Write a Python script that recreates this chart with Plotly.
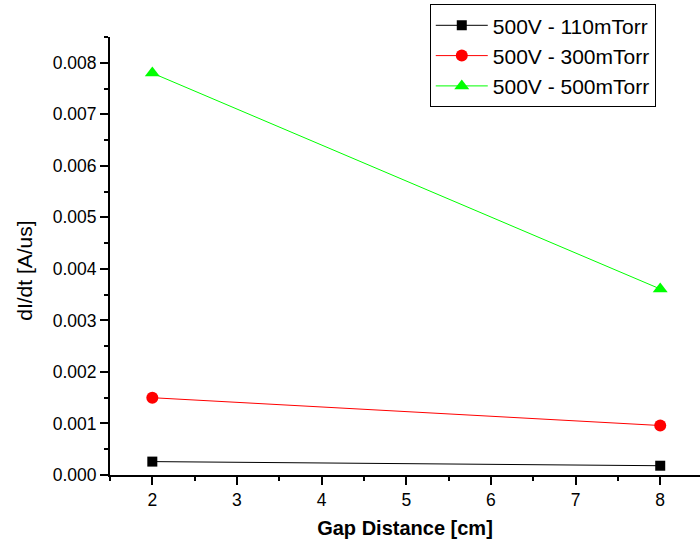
import plotly.graph_objects as go

gap = [2, 8]
s110 = [0.00026, 0.00018]
s300 = [0.0015, 0.00096]
s500 = [0.0078, 0.00361]
names = ["500V - 110mTorr", "500V - 300mTorr", "500V - 500mTorr"]

fig = go.Figure()
fig.add_trace(go.Scatter(x=gap, y=s110, name=names[0], mode="lines+markers",
                         line=dict(color="black", width=1),
                         marker=dict(symbol="square", size=10, color="black")))
fig.add_trace(go.Scatter(x=gap, y=s300, name=names[1], mode="lines+markers",
                         line=dict(color="#FF0000", width=1),
                         marker=dict(symbol="circle", size=12, color="#FF0000")))
fig.add_trace(go.Scatter(x=gap, y=s500, name=names[2], mode="lines+markers",
                         line=dict(color="#00FF00", width=1),
                         marker=dict(symbol="triangle-up", size=13, color="#00FF00")))

font = "Liberation Sans, Arial, sans-serif"
fig.update_layout(
    width=700, height=546,
    margin=dict(l=110, r=0, t=37, b=71),
    plot_bgcolor="white", paper_bgcolor="white",
    font=dict(family=font, size=17, color="black"),
    showlegend=True,
    legend=dict(x=0.542, y=1.075, xanchor="left", yanchor="top",
                bordercolor="black", borderwidth=1, bgcolor="white",
                font=dict(size=21), tracegroupgap=0, itemwidth=52),
    xaxis=dict(range=[1.5, 8.47], dtick=1, tick0=0, showgrid=False, zeroline=False,
               showline=True, linecolor="black", linewidth=2,
               ticks="outside", ticklen=8, tickwidth=2, tickcolor="black",
               minor=dict(dtick=0.5, ticks="outside", ticklen=4, tickwidth=2, tickcolor="black", showgrid=False),
               title=dict(text="<b>Gap Distance [cm]</b>", font=dict(size=20), standoff=12),
               tickfont=dict(size=17.5)),
    yaxis=dict(range=[0, 0.0085], dtick=0.001, tick0=0, tickformat=".3f", showgrid=False, zeroline=False,
               showline=True, linecolor="black", linewidth=2,
               ticks="outside", ticklen=8, tickwidth=2, tickcolor="black",
               minor=dict(dtick=0.0005, ticks="outside", ticklen=4, tickwidth=2, tickcolor="black", showgrid=False),
               title=dict(text="dI/dt [A/us]" + "&nbsp;" * 5, font=dict(size=21), standoff=14),
               tickfont=dict(size=17.5)),
)

fig.write_html("out.html")
